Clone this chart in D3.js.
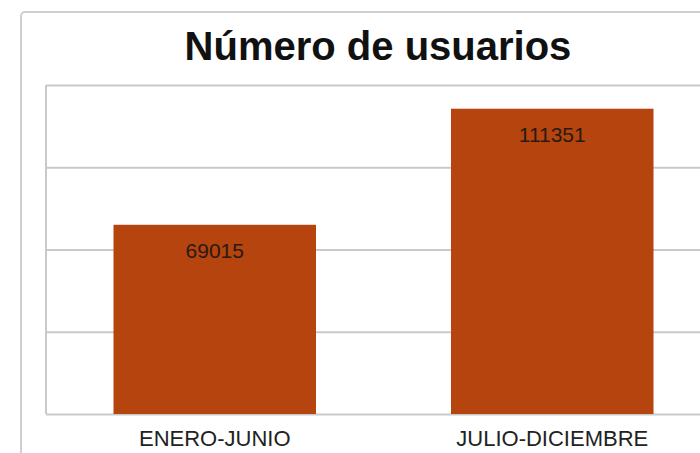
<!DOCTYPE html>
<html>
<head>
<meta charset="utf-8">
<script src="https://cdn.jsdelivr.net/npm/d3@7"></script>
<style>
  body { margin: 0; background: #fff; }
  svg { display: block; }
</style>
</head>
<body>
<div id="chart"></div>
<script>
var categories = ["ENERO-JUNIO", "JULIO-DICIEMBRE"]
var values = [69015, 111351]
var gridTicks = [0, 30000, 60000, 90000, 120000]
var title = "Número de usuarios"

var width = 700
var height = 453
var margin = {top: 85, left: 46, bottom: 39, right: -21}

var svg = d3.select("#chart")
            .append("svg")
            .attr("width", width)
            .attr("height", height)

// outer frame (runs off the right and bottom edges)
svg.append("rect")
    .attr("x", 21)
    .attr("y", 12)
    .attr("width", 720)
    .attr("height", 480)
    .attr("rx", 4)
    .attr("fill", "#fff")
    .attr("stroke", "#cfcfcf")
    .attr("stroke-width", 2)

svg.append("text")
    .attr("x", 378)
    .attr("y", 60)
    .attr("text-anchor", "middle")
    .style("font-family", "'Liberation Sans', Arial, sans-serif")
    .style("font-weight", "bold")
    .style("font-size", "40px")
    .attr("fill", "#111")
    .text(title)

var x = d3.scaleBand()
            .domain(categories)
            .range([margin.left, width - margin.right])
            .paddingInner(0.4)
            .paddingOuter(0.2)

var y = d3.scaleLinear()
            .domain([0, 120000])
            .range([height - margin.bottom, margin.top])

// gridlines
svg.append("g")
    .attr("transform", "translate(" + margin.left + ",0)")
    .call(d3.axisLeft(y)
            .tickValues(gridTicks)
            .tickSize(-(width - margin.right - margin.left))
            .tickFormat(""))
    .call(function(g){ g.select(".domain").remove() })
    .selectAll("line")
    .attr("stroke", "#c9c9c9")
    .attr("stroke-width", 2)

// left border of the plot area
svg.append("line")
    .attr("x1", margin.left)
    .attr("x2", margin.left)
    .attr("y1", y(120000))
    .attr("y2", y(0))
    .attr("stroke", "#c9c9c9")
    .attr("stroke-width", 2)

svg.selectAll("rect.bar")
    .data(values)
    .enter()
    .append("rect")
    .attr("class", "bar")
    .attr("x", function(d, i){ return x(categories[i]) })
    .attr("y", function(d){ return y(d) })
    .attr("width", x.bandwidth())
    .attr("height", function(d){ return y(0) - y(d) })
    .attr("fill", "#b5440f")

svg.selectAll("text.value")
    .data(values)
    .enter()
    .append("text")
    .attr("class", "value")
    .attr("x", function(d, i){ return x(categories[i]) + x.bandwidth() / 2 })
    .attr("y", function(d){ return y(d) + 33 })
    .attr("text-anchor", "middle")
    .style("font-family", "'Liberation Sans', Arial, sans-serif")
    .style("font-size", "21px")
    .attr("fill", "#2a1a12")
    .text(function(d){ return d })

svg.selectAll("text.cat")
    .data(categories)
    .enter()
    .append("text")
    .attr("class", "cat")
    .attr("x", function(d){ return x(d) + x.bandwidth() / 2 })
    .attr("y", 446)
    .attr("text-anchor", "middle")
    .style("font-family", "'Liberation Sans', Arial, sans-serif")
    .style("font-size", "22px")
    .attr("fill", "#222")
    .text(function(d){ return d })
</script>
</body>
</html>
